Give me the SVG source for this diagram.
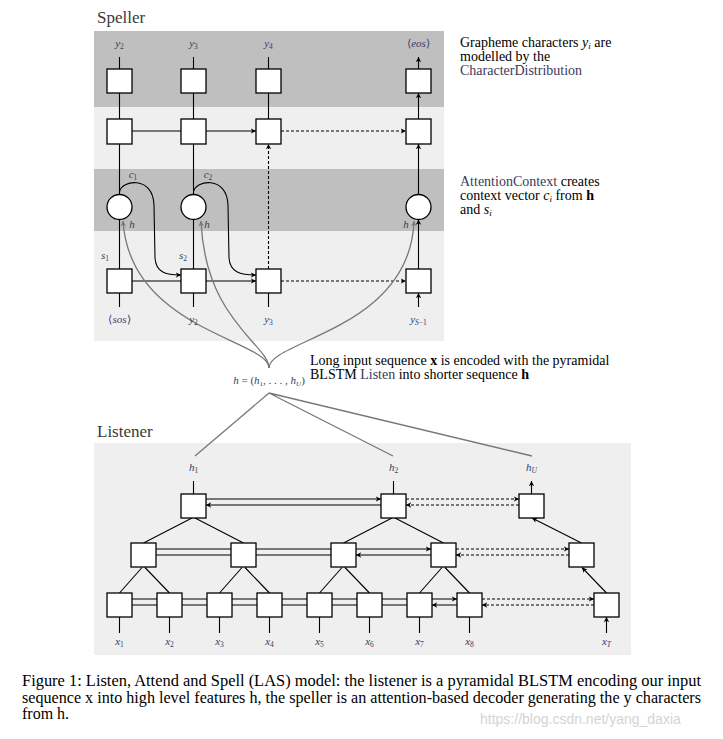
<svg xmlns="http://www.w3.org/2000/svg" width="723" height="739" viewBox="0 0 723 739">
<defs>
<style>
.bx{fill:#fff;stroke:#000;stroke-width:1.3}
.ln{fill:none;stroke:#000;stroke-width:1.1}
.ar{fill:none;stroke:#000;stroke-width:1.1;marker-end:url(#a)}
.da{fill:none;stroke:#000;stroke-width:1.1;stroke-dasharray:3,2;marker-end:url(#a)}
.gr{fill:none;stroke:#777;stroke-width:1.3}
.ga{fill:none;stroke:#777;stroke-width:1.3;marker-end:url(#g)}
.t{font-family:"Liberation Serif","Times New Roman",serif;fill:#000}
.ttl{font-family:"Liberation Serif","Times New Roman",serif;font-size:17px;fill:#3a3a3a}
.m{font-family:"Liberation Serif","Times New Roman",serif;font-style:italic;font-size:11px;fill:#3a3a66;text-anchor:middle}
.d{font-family:"Liberation Serif","Times New Roman",serif;font-size:14px;fill:#000}
.c{fill:#3a3a5a}
</style>
<marker id="a" markerWidth="7" markerHeight="7" refX="5.5" refY="3.5" orient="auto" markerUnits="userSpaceOnUse"><path d="M0.3,0.8 L5.5,3.5 L0.3,6.2 L1.8,3.5 Z" fill="#000"/></marker>
<marker id="g" markerWidth="7" markerHeight="7" refX="5.5" refY="3.5" orient="auto" markerUnits="userSpaceOnUse"><path d="M0.3,0.8 L5.5,3.5 L0.3,6.2 L1.8,3.5 Z" fill="#777"/></marker>
</defs>

<!-- backgrounds -->
<g id="speller-bg">
<rect x="94" y="31" width="350" height="310" fill="#efefef"/>
<rect x="94" y="31" width="350" height="76" fill="#bfbfbf"/>
<rect x="94" y="169" width="350" height="62" fill="#bfbfbf"/>
<text class="ttl" x="97" y="23">Speller</text>
</g>
<g id="listener-bg">
<rect x="94" y="443" width="537" height="212" fill="#efefef"/>
<text class="ttl" x="97" y="437">Listener</text>
</g>

<!-- connectors -->
<g id="connectors">
<path class="ar" d="M119.5,69V57M193.5,69V57M268.5,69V57M418.5,69V57"/>
<path class="ar" d="M119.5,119V93M193.5,119V93M268.5,119V93M418.5,119V93"/>
<path class="ar" d="M132,131H181M206,131H256"/>
<path class="da" d="M281,131H406"/>
<path class="ar" d="M119.5,194.5V144M193.5,194.5V144M418.5,194.5V144"/>
<path class="da" d="M268.5,269V144"/>
<path class="ar" d="M119.5,269V219.5M193.5,269V219.5M418.5,269V219.5"/>
<path class="ar" d="M132,281H181M206,281H256"/>
<path class="da" d="M281,281H406"/>
<path class="ar" d="M119.5,307V293M193.5,307V293M268.5,307V293M418.5,307V293"/>
<path class="ar" d="M119.5,192C121,180 153,175 154,205L155,258C156,272 165,275 181,275"/>
<path class="ar" d="M193.5,192C195,180 227,175 228,205L229,258C230,272 240,275 256,275"/>
<path class="ga" d="M269,368C269,340 130,330 123,221"/>
<path class="ga" d="M269,368C269,345 205,320 201,221"/>
<path class="ga" d="M269,368C269,340 410,330 414,221"/>
<path class="gr" d="M269,393L195,456M269,393L393,456M269,393L532,456"/>
<path class="ar" d="M193.5,494V481M393.5,494V481M531.5,494V481"/>
<path class="ar" d="M119.5,633V617M169.5,633V617M219.5,633V617M269.5,633V617M319.5,633V617M369.5,633V617M419.5,633V617M469.5,633V617M606.5,633V617"/>
<path class="ar" d="M132,599H157M182,599H207M232,599H257M282,599H307M332,599H357M382,599H407M432,599H457"/>
<path class="ar" d="M157,605H132M207,605H182M257,605H232M307,605H282M357,605H332M407,605H382M457,605H432"/>
<path class="da" d="M482,599H594"/>
<path class="da" d="M594,605H482"/>
<path class="ar" d="M156,549H231M256,549H331M356,549H431"/>
<path class="ar" d="M231,555H156M331,555H256M431,555H356"/>
<path class="da" d="M456,549H569"/>
<path class="da" d="M569,555H456"/>
<path class="ar" d="M206,499H381"/>
<path class="ar" d="M381,505H206"/>
<path class="da" d="M406,499H519"/>
<path class="da" d="M519,505H406"/>
<path class="ar" d="M119.5,593L142,567.5M169.5,593L145,567.5M219.5,593L242,567.5M269.5,593L245,567.5M319.5,593L342,567.5M369.5,593L345,567.5M419.5,593L442,567.5M469.5,593L445,567.5M606.5,593L582,567.5"/>
<path class="ar" d="M143.5,543L192,518M243.5,543L195,518M343.5,543L392,518M443.5,543L395,518M581.5,543L532,518"/>
</g>

<g id="speller-out">
<rect class="bx" x="107" y="69" width="25" height="24"/>
<rect class="bx" x="181" y="69" width="25" height="24"/>
<rect class="bx" x="256" y="69" width="25" height="24"/>
<rect class="bx" x="406" y="69" width="25" height="24"/>
<text class="m" x="119.5" y="47">y<tspan font-size="7.5" dy="1.5" font-style="normal">2</tspan></text>
<text class="m" x="193.5" y="47">y<tspan font-size="7.5" dy="1.5" font-style="normal">3</tspan></text>
<text class="m" x="268.5" y="47">y<tspan font-size="7.5" dy="1.5" font-style="normal">4</tspan></text>
<text class="m" x="418.5" y="47"><tspan font-style="normal">⟨</tspan>eos<tspan font-style="normal">⟩</tspan></text>
</g>
<g id="speller-state">
<rect class="bx" x="107" y="119" width="25" height="25"/>
<rect class="bx" x="181" y="119" width="25" height="25"/>
<rect class="bx" x="256" y="119" width="25" height="25"/>
<rect class="bx" x="406" y="119" width="25" height="25"/>
</g>
<g id="attention">
<circle class="bx" cx="119.5" cy="207" r="12.5"/>
<circle class="bx" cx="193.5" cy="207" r="12.5"/>
<circle class="bx" cx="418.5" cy="207" r="12.5"/>
<text class="m" x="133" y="178">c<tspan font-size="7.5" dy="1.5" font-style="normal">1</tspan></text>
<text class="m" x="208" y="178">c<tspan font-size="7.5" dy="1.5" font-style="normal">2</tspan></text>
<text class="m" x="132" y="228">h</text>
<text class="m" x="207" y="228">h</text>
<text class="m" x="406" y="228">h</text>
</g>
<g id="speller-in">
<rect class="bx" x="107" y="269" width="25" height="24"/>
<rect class="bx" x="181" y="269" width="25" height="24"/>
<rect class="bx" x="256" y="269" width="25" height="24"/>
<rect class="bx" x="406" y="269" width="25" height="24"/>
<text class="m" x="105" y="259">s<tspan font-size="7.5" dy="1.5" font-style="normal">1</tspan></text>
<text class="m" x="183" y="259">s<tspan font-size="7.5" dy="1.5" font-style="normal">2</tspan></text>
<text class="m" x="119.5" y="323"><tspan font-style="normal">⟨</tspan>sos<tspan font-style="normal">⟩</tspan></text>
<text class="m" x="193.5" y="323">y<tspan font-size="7.5" dy="1.5" font-style="normal">2</tspan></text>
<text class="m" x="268.5" y="323">y<tspan font-size="7.5" dy="1.5" font-style="normal">3</tspan></text>
<text class="m" x="418.5" y="323">y<tspan font-size="7.5" dy="1.5">S</tspan><tspan font-size="7.5" font-style="normal">−1</tspan></text>
</g>

<g id="desc-char">
<text class="d" x="460" y="47">Grapheme characters <tspan font-style="italic">y<tspan font-size="9" dy="2">i</tspan></tspan><tspan dy="-2"> are</tspan></text>
<text class="d" x="460" y="61">modelled by the</text>
<text class="d c" x="460" y="75">CharacterDistribution</text>
</g>
<g id="desc-att">
<text class="d" x="460" y="186"><tspan class="c">AttentionContext</tspan> creates</text>
<text class="d" x="460" y="200">context vector <tspan font-style="italic">c<tspan font-size="9" dy="2">i</tspan></tspan><tspan dy="-2"> from </tspan><tspan font-weight="bold">h</tspan></text>
<text class="d" x="460" y="214">and <tspan font-style="italic">s<tspan font-size="9" dy="2">i</tspan></tspan></text>
</g>
<g id="desc-listen">
<text class="m" x="269" y="384" font-size="10.5"><tspan>h</tspan><tspan font-style="normal"> = (</tspan>h<tspan font-size="7" dy="1.5" font-style="normal">1</tspan><tspan dy="-1.5" font-style="normal">, . . . , </tspan>h<tspan font-size="7" dy="1.5">U</tspan><tspan dy="-1.5" font-style="normal">)</tspan></text>
<text class="d" x="310" y="365" font-size="14.4">Long input sequence <tspan font-weight="bold">x</tspan> is encoded with the pyramidal</text>
<text class="d" x="310" y="379" font-size="14.4">BLSTM <tspan class="c">Listen</tspan> into shorter sequence <tspan font-weight="bold">h</tspan></text>
</g>

<g id="listener-top">
<rect class="bx" x="181" y="494" width="25" height="24"/>
<rect class="bx" x="381" y="494" width="25" height="24"/>
<rect class="bx" x="519" y="494" width="25" height="24"/>
<text class="m" x="193.5" y="471">h<tspan font-size="7.5" dy="1.5" font-style="normal">1</tspan></text>
<text class="m" x="393.5" y="471">h<tspan font-size="7.5" dy="1.5" font-style="normal">2</tspan></text>
<text class="m" x="531.5" y="471">h<tspan font-size="7.5" dy="1.5">U</tspan></text>
</g>
<g id="listener-mid">
<rect class="bx" x="131" y="543" width="25" height="24"/>
<rect class="bx" x="231" y="543" width="25" height="24"/>
<rect class="bx" x="331" y="543" width="25" height="24"/>
<rect class="bx" x="431" y="543" width="25" height="24"/>
<rect class="bx" x="569" y="543" width="25" height="24"/>
</g>
<g id="listener-bottom">
<rect class="bx" x="107" y="593" width="25" height="24"/>
<rect class="bx" x="157" y="593" width="25" height="24"/>
<rect class="bx" x="207" y="593" width="25" height="24"/>
<rect class="bx" x="257" y="593" width="25" height="24"/>
<rect class="bx" x="307" y="593" width="25" height="24"/>
<rect class="bx" x="357" y="593" width="25" height="24"/>
<rect class="bx" x="407" y="593" width="25" height="24"/>
<rect class="bx" x="457" y="593" width="25" height="24"/>
<rect class="bx" x="594" y="593" width="25" height="24"/>
<text class="m" x="119.5" y="645">x<tspan font-size="7.5" dy="1.5" font-style="normal">1</tspan></text>
<text class="m" x="169.5" y="645">x<tspan font-size="7.5" dy="1.5" font-style="normal">2</tspan></text>
<text class="m" x="219.5" y="645">x<tspan font-size="7.5" dy="1.5" font-style="normal">3</tspan></text>
<text class="m" x="269.5" y="645">x<tspan font-size="7.5" dy="1.5" font-style="normal">4</tspan></text>
<text class="m" x="319.5" y="645">x<tspan font-size="7.5" dy="1.5" font-style="normal">5</tspan></text>
<text class="m" x="369.5" y="645">x<tspan font-size="7.5" dy="1.5" font-style="normal">6</tspan></text>
<text class="m" x="419.5" y="645">x<tspan font-size="7.5" dy="1.5" font-style="normal">7</tspan></text>
<text class="m" x="469.5" y="645">x<tspan font-size="7.5" dy="1.5" font-style="normal">8</tspan></text>
<text class="m" x="606.5" y="645">x<tspan font-size="7.5" dy="1.5">T</tspan></text>
</g>

<g id="caption">
<text class="t" font-size="16" x="22" y="686" textLength="679" lengthAdjust="spacingAndGlyphs">Figure 1:  Listen, Attend and Spell (LAS) model:  the listener is a pyramidal BLSTM encoding our input</text>
<text class="t" font-size="16" x="22" y="703" textLength="679" lengthAdjust="spacingAndGlyphs">sequence x into high level features h, the speller is an attention-based decoder generating the y characters</text>
<text class="t" font-size="16" x="22" y="719">from h.</text>
<text x="480" y="724" font-family="'Liberation Sans',Arial,sans-serif" font-size="14" fill="#d4d4d4">https://blog.csdn.net/yang_daxia</text>
</g>
</svg>
